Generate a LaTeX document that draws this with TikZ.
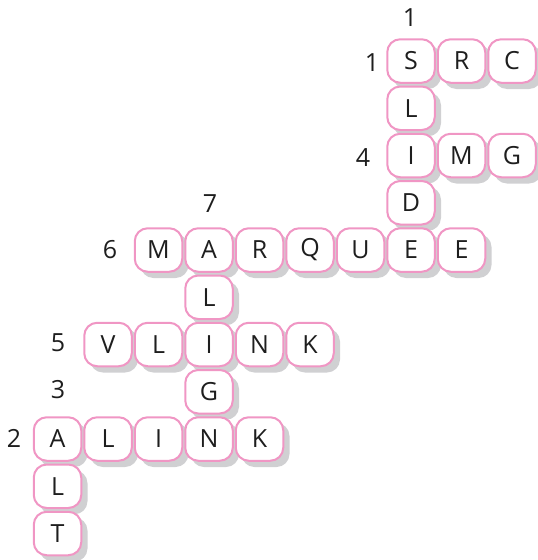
\documentclass[tikz,border=0pt]{standalone}
\usepackage{fontspec}
\setmainfont{Open Sans}
\definecolor{cellpink}{RGB}{240,150,196}
\definecolor{shadowgray}{RGB}{208,208,210}
\definecolor{txt}{RGB}{30,30,30}
\tikzset{
  cellbox/.style={draw=cellpink, line width=2pt, fill=white, rounded corners=13pt,
    minimum width=47.5pt, minimum height=43.5pt, inner sep=0pt, font=\fontsize{25}{25}\selectfont, text=txt},
  shadowbox/.style={fill=shadowgray, rounded corners=13pt, minimum width=48pt, minimum height=44pt, inner sep=0pt},
  numlabel/.style={font=\fontsize{25}{25}\selectfont, text=txt, inner sep=0pt}
}
\begin{document}
\begin{tikzpicture}[x=1pt,y=1pt]
\useasboundingbox (0,0) rectangle (538,-560);
\def\cells{7/0/S,8/0/R,9/0/C,7/1/L,7/2/I,8/2/M,9/2/G,7/3/D,2/4/M,3/4/A,4/4/R,5/4/Q,6/4/U,7/4/E,8/4/E,3/5/L,1/6/V,2/6/L,3/6/I,4/6/N,5/6/K,3/7/G,0/8/A,1/8/L,2/8/I,3/8/N,4/8/K,0/9/L,0/10/T}
\foreach \c/\r/\l in \cells {
  \node[shadowbox] (s\c-\r) at ({57.5+50.5*\c+6},{-(61+47.25*\r)-6}) {};
}
\foreach \c/\r/\l in \cells {
  \node[cellbox] (c\c-\r) at ({57.5+50.5*\c},{-(61+47.25*\r)}) {\l};
}
\node[numlabel] (n1a) at (410,-18) {1};
\node[numlabel] (n1b) at (372,-63) {1};
\node[numlabel] (n4) at (363,-158) {4};
\node[numlabel] (n7) at (210,-204) {7};
\node[numlabel] (n6) at (110,-250) {6};
\node[numlabel] (n5) at (58,-343) {5};
\node[numlabel] (n3) at (58,-390) {3};
\node[numlabel] (n2) at (14,-438) {2};
\end{tikzpicture}
\end{document}
